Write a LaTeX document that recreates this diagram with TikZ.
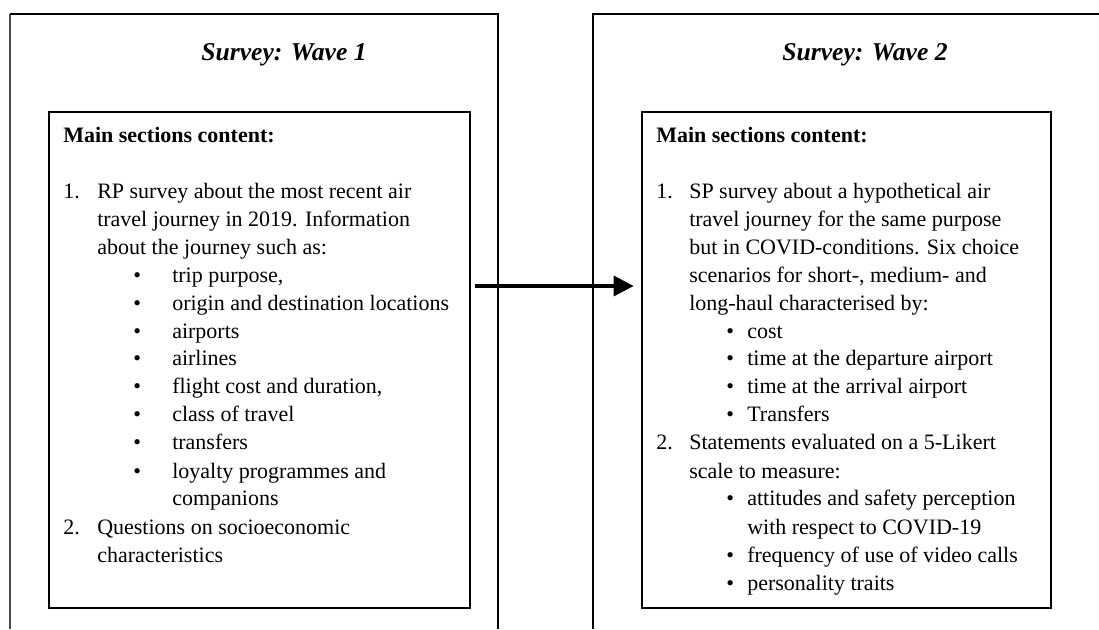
\documentclass[tikz,border=0pt]{standalone}
\usepackage{fontspec}
\setmainfont{Liberation Serif}
\usetikzlibrary{arrows.meta,fit}
\tikzset{
  frame/.style={line width=1.5pt, draw=black},
  inbox/.style={draw=black, line width=1.5pt, inner sep=0pt},
  ttl/.style={font=\fontsize{19.2}{23}\selectfont\bfseries\itshape, anchor=base, inner sep=0pt},
  txt/.style={font=\fontsize{16.5}{19}\selectfont, anchor=base west, inner sep=0pt},
  hd/.style={font=\fontsize{16.5}{19}\selectfont\bfseries, anchor=base west, inner sep=0pt},
  flow/.style={line width=2.6pt, -{Triangle[length=15pt,width=15pt]}}
}
\begin{document}
\begin{tikzpicture}[x=0.75pt,y=-0.75pt]
\useasboundingbox (0,0) rectangle (1099,629);
\fill[white] (0,0) rectangle (1099,629);
% outer frames
\draw[line width=0.9pt, draw=black!70] (10,629) -- (10,14);
\draw[frame] (10,14) -- (498,14) -- (498,629);
\draw[frame] (593,629) -- (593,14) -- (1099,14);
% titles
\node[ttl] (t1) at (284,60) {Survey: Wave 1};
\node[ttl] (t2) at (865,60) {Survey: Wave 2};
% inner boxes
\node[inbox, fit={(49,112) (470,608)}] (inL) {};
\node[inbox, fit={(642,112) (1051,608)}] (inR) {};
% left content
\node[hd] (lh) at (63,142) {Main sections content:};
\node[txt] (ln1) at (63,198) {1.};
\node[txt] (l1) at (97,198) {RP survey about the most recent air};
\node[txt] (l2) at (97,226) {travel journey in 2019. Information};
\node[txt] (l3) at (97,254) {about the journey such as:};
\node[txt] (lb1) at (133,282) {\textbullet};
\node[txt] (l4) at (172,282) {trip purpose,};
\node[txt] (lb2) at (133,310) {\textbullet};
\node[txt] (l5) at (172,310) {origin and destination locations};
\node[txt] (lb3) at (133,338) {\textbullet};
\node[txt] (l6) at (172,338) {airports};
\node[txt] (lb4) at (133,365) {\textbullet};
\node[txt] (l7) at (172,365) {airlines};
\node[txt] (lb5) at (133,393) {\textbullet};
\node[txt] (l8) at (172,393) {flight cost and duration,};
\node[txt] (lb6) at (133,421) {\textbullet};
\node[txt] (l9) at (172,421) {class of travel};
\node[txt] (lb7) at (133,449) {\textbullet};
\node[txt] (l10) at (172,449) {transfers};
\node[txt] (lb8) at (133,478) {\textbullet};
\node[txt] (l11) at (172,478) {loyalty programmes and};
\node[txt] (l12) at (172,505) {companions};
\node[txt] (ln2) at (63,534) {2.};
\node[txt] (l13) at (97,534) {Questions on socioeconomic};
\node[txt] (l14) at (97,562) {characteristics};
% right content
\node[hd] (rh) at (656,142) {Main sections content:};
\node[txt] (rn1) at (656,198) {1.};
\node[txt] (r1) at (689,198) {SP survey about a hypothetical air};
\node[txt] (r2) at (689,226) {travel journey for the same purpose};
\node[txt] (r3) at (689,254) {but in COVID-conditions. Six choice};
\node[txt] (r4) at (689,282) {scenarios for short-, medium- and};
\node[txt] (r5) at (689,310) {long-haul characterised by:};
\node[txt] (rb1) at (726,338) {\textbullet};
\node[txt] (r6) at (747,338) {cost};
\node[txt] (rb2) at (726,365) {\textbullet};
\node[txt] (r7) at (747,365) {time at the departure airport};
\node[txt] (rb3) at (726,393) {\textbullet};
\node[txt] (r8) at (747,393) {time at the arrival airport};
\node[txt] (rb4) at (726,421) {\textbullet};
\node[txt] (r9) at (747,421) {Transfers};
\node[txt] (rn2) at (656,449) {2.};
\node[txt] (r10) at (689,449) {Statements evaluated on a 5-Likert};
\node[txt] (r11) at (689,478) {scale to measure:};
\node[txt] (rb5) at (726,505) {\textbullet};
\node[txt] (r12) at (747,505) {attitudes and safety perception};
\node[txt] (r13) at (747,534) {with respect to COVID-19};
\node[txt] (rb6) at (726,562) {\textbullet};
\node[txt] (r14) at (747,562) {frequency of use of video calls};
\node[txt] (rb7) at (726,590) {\textbullet};
\node[txt] (r15) at (747,590) {personality traits};
% arrow
\coordinate (ay) at (0,286);
\draw[flow, shorten <=3pt, shorten >=5.5pt] (inL.east |- ay) -- (inR.west |- ay);
\end{tikzpicture}
\end{document}
